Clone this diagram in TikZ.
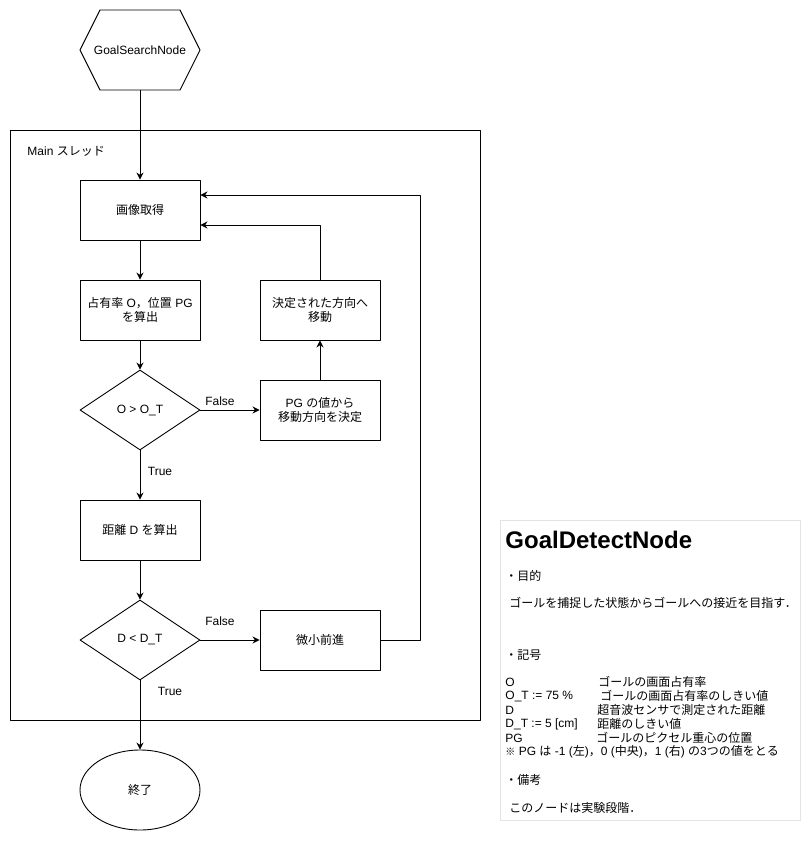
\documentclass[tikz,border=0pt]{standalone}
\usepackage{fontspec}
\setmainfont{Liberation Sans}
\newfontfamily\jp{Noto Sans CJK JP}
\newcommand{\J}[1]{{\jp #1}}
\usetikzlibrary{shapes.geometric,arrows.meta}
\definecolor{notegray}{HTML}{E3E3E3}
\tikzset{
  flowbox/.style={draw, rectangle, minimum width=120pt, minimum height=60pt, inner sep=0pt, align=center},
  flowdia/.style={draw, diamond, aspect=1.5, minimum width=120pt, minimum height=80pt, inner sep=0pt},
  flowend/.style={draw, ellipse, minimum width=120pt, minimum height=80pt, inner sep=0pt},
  flowlbl/.style={inner sep=0pt},
  notetxt/.style={anchor=west, inner sep=0pt}
}
\begin{document}
\begin{tikzpicture}[x=1pt, y=-1pt, font=\fontsize{12}{14}\selectfont, line width=0.9pt, line join=round, >={Stealth[length=7pt,width=7pt]}]
  \useasboundingbox (0,0) rectangle (811,841);
  % start hexagon
  \draw (80,50) -- (100,10) -- (180,10) -- (200,50) -- (180,90) -- (100,90) -- cycle;
  \node[inner sep=0pt, minimum width=120pt, minimum height=80pt] (start) at (140,50) {GoalSearchNode};
  % thread frame
  \draw (10,130) rectangle (480,720);
  \node[notetxt] (thread) at (27,151) {Main \J{スレッド}};
  % flow nodes
  \node[flowbox] (img) at (140,210) {\J{画像取得}};
  \node[flowbox] (calc) at (140,310) {\J{占有率} O\J{，位置} PG\\\J{を算出}};
  \node[flowdia] (occ) at (140,410) {O {\textgreater} O\_T};
  \node[flowbox] (pg) at (320,410) {PG \J{の値から}\\\J{移動方向を決定}};
  \node[flowbox] (move) at (320,310) {\J{決定された方向へ}\\\J{移動}};
  \node[flowbox] (dist) at (140,530) {\J{距離} D \J{を算出}};
  \node[flowdia] (near) at (140,640) {D {\textless} D\_T};
  \node[flowbox] (fwd) at (320,640) {\J{微小前進}};
  \node[flowend] (stop) at (140,790) {\J{終了}};
  \coordinate (loopR) at (420,195);
  % connectors
  \draw[->] (start) -- (img);
  \draw[->] (img) -- (calc);
  \draw[->] (calc) -- (occ);
  \draw[->] (occ) -- (pg);
  \draw[->] (occ) -- (dist);
  \draw[->] (pg) -- (move);
  \draw[->] (move.north) |- ([yshift=-15pt]img.east);
  \draw[->] (dist) -- (near);
  \draw[->] (near) -- (fwd);
  \draw[->] (fwd.east) -| (loopR) -- ([yshift=15pt]img.east);
  \draw[->] (near) -- (stop);
  \node[flowlbl] (f1) at (220,401) {False};
  \node[flowlbl] (t1) at (160,471) {True};
  \node[flowlbl] (f2) at (220,621) {False};
  \node[flowlbl] (t2) at (170,691) {True};
  % note box
  \draw[notegray] (500,520) rectangle (800,820);
  \node[notetxt, font=\fontsize{24}{28}\selectfont\bfseries] (title) at (505,540) {GoalDetectNode};
  \node[notetxt] (h1) at (505,576) {\J{・目的}};
  \node[notetxt] (p1) at (509,603) {\J{ゴールを捕捉した状態からゴールへの接近を目指す．}};
  \node[notetxt] (h2) at (505,655) {\J{・記号}};
  \node[notetxt] (s1) at (505,682) {O};
  \node[notetxt] (s2) at (505,696) {O\_T := 75 \%};
  \node[notetxt] (s3) at (505,710) {D};
  \node[notetxt] (s4) at (505,724) {D\_T := 5 [cm]};
  \node[notetxt] (s5) at (505,738) {PG};
  \node[notetxt] (d1) at (598,682) {\J{ゴールの画面占有率}};
  \node[notetxt] (d2) at (600,696) {\J{ゴールの画面占有率のしきい値}};
  \node[notetxt] (d3) at (597,710) {\J{超音波センサで測定された距離}};
  \node[notetxt] (d4) at (597,724) {\J{距離のしきい値}};
  \node[notetxt] (d5) at (596,738) {\J{ゴールのピクセル重心の位置}};
  \node[notetxt] (s6) at (505,752) {{\fontsize{10}{14}\selectfont\J{※}} PG \J{は} -1 (\J{左})\J{，}0 (\J{中央})\J{，}1 (\J{右}) \J{の}3\J{つの値をとる}};
  \node[notetxt] (h3) at (505,780) {\J{・備考}};
  \node[notetxt] (p2) at (509,808) {\J{このノードは実験段階．}};
\end{tikzpicture}
\end{document}
